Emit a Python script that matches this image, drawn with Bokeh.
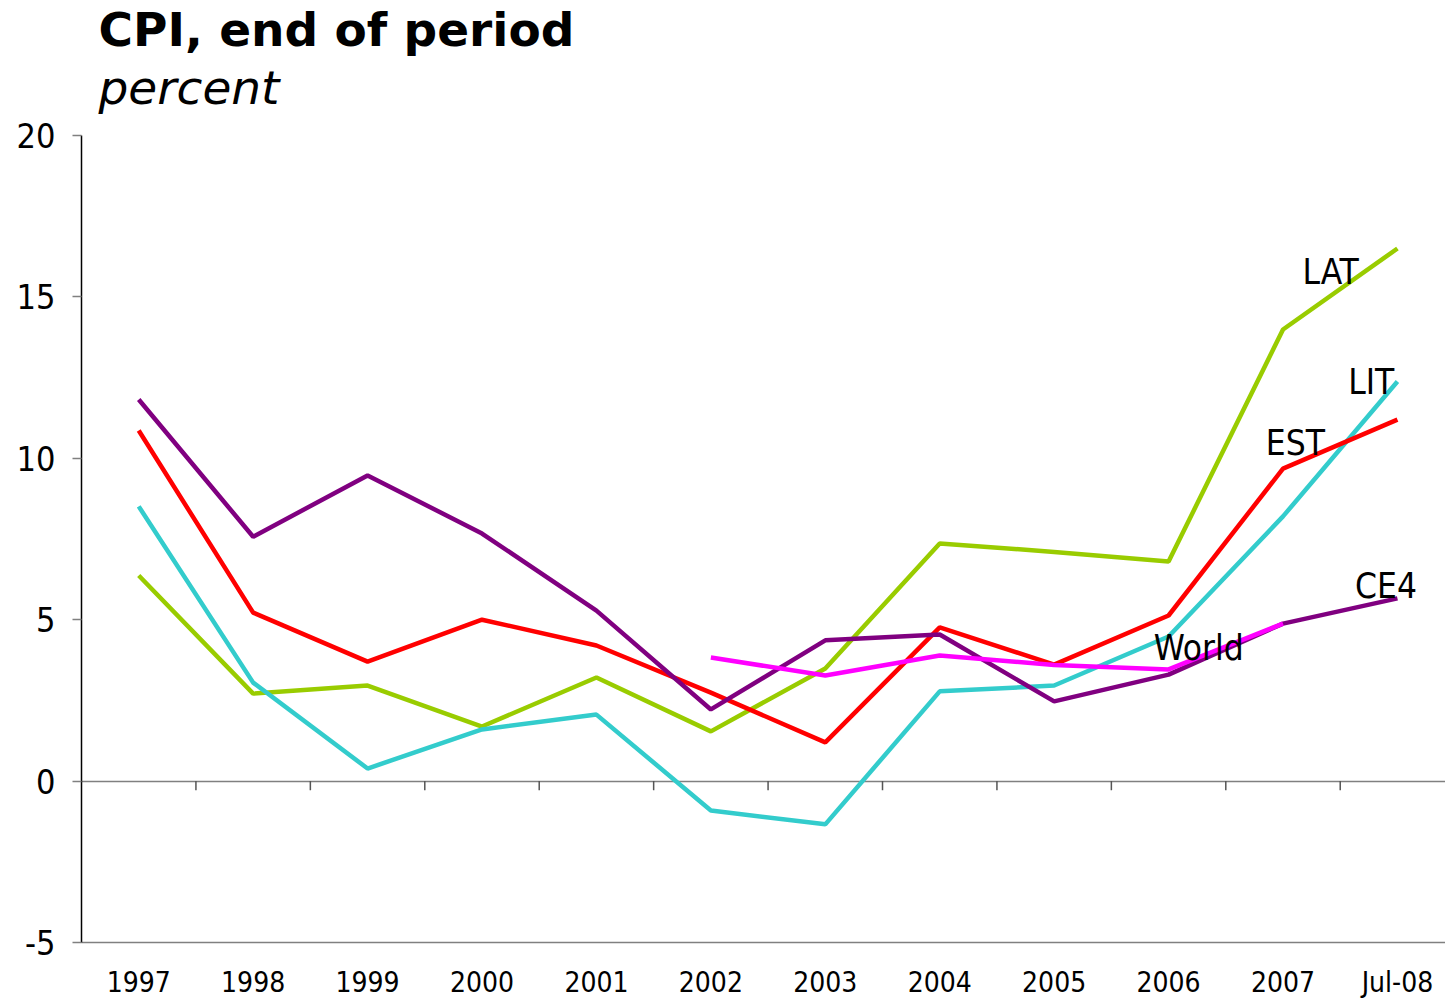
from bokeh.plotting import figure
from bokeh.models import Range1d, FixedTicker, Label, Title
from bokeh.embed import file_html
from bokeh.resources import INLINE

# ---- data ----
years = ["1997", "1998", "1999", "2000", "2001", "2002", "2003", "2004",
         "2005", "2006", "2007", "Jul-08"]
est = [10.86, 5.22, 3.70, 5.00, 4.20, 2.74, 1.20, 4.76, 3.61, 5.13, 9.68, 11.20]
lat = [6.37, 2.71, 2.96, 1.69, 3.21, 1.54, 3.49, 7.36, 7.10, 6.80, 13.99, 16.50]
lit = [8.51, 3.05, 0.39, 1.60, 2.06, -0.91, -1.34, 2.78, 2.96, 4.48, 8.20, 12.38]
ce4 = [11.82, 7.57, 9.47, 7.67, 5.28, 2.22, 4.36, 4.54, 2.47, 3.30, 4.88, 5.66]
world_years = ["2002", "2003", "2004", "2005", "2006", "2007"]
world = [3.83, 3.27, 3.89, 3.60, 3.46, 4.88]
y_ticks = [-5, 0, 5, 10, 15, 20]

FONT = "'DejaVu Sans Condensed', 'DejaVu Sans'"

# category positions (centre of each category slot)
pos = {c: i + 0.5 for i, c in enumerate(years)}
x_all = [pos[c] for c in years]
x_world = [pos[c] for c in world_years]

p = figure(width=1445, height=1001, x_range=Range1d(0, 11.92),
           y_range=Range1d(-5, 20), output_backend="svg",
           toolbar_location=None, title=None,
           min_border_left=81, min_border_right=0,
           min_border_top=135, min_border_bottom=59)
p.outline_line_color = None
p.background_fill_color = "white"

# titles (stacked above the frame; later ones sit higher)
sub = Title(text="percent", text_font="DejaVu Sans", text_font_size="47px",
            text_font_style="italic", text_color="black", align="left",
            offset=17, standoff=41)
p.add_layout(sub, "above")
main = Title(text="CPI, end of period", text_font="DejaVu Sans",
             text_font_size="47px", text_font_style="bold", text_color="black",
             align="left", offset=17, standoff=-38)
p.add_layout(main, "above")
spacer = Title(text=" ", text_font="DejaVu Sans", text_font_size="10px",
               text_color="white", align="left", standoff=4)
p.add_layout(spacer, "above")

# grid: zero line and top line
p.xgrid.grid_line_color = None
p.ygrid.ticker = FixedTicker(ticks=[0, 20])
p.ygrid.grid_line_color = "#808080"
p.ygrid.grid_line_width = 1.5

# y axis
ya = p.yaxis[0]
ya.ticker = FixedTicker(ticks=y_ticks)
ya.major_label_overrides = {-5: "-5"}
ya.axis_line_color = "black"
ya.axis_line_width = 1.5
ya.major_tick_line_color = "#808080"
ya.major_tick_line_width = 1.5
ya.major_tick_out = 9
ya.major_tick_in = 0
ya.minor_tick_line_color = None
ya.major_label_text_font = FONT
ya.major_label_text_font_size = "34px"
ya.major_label_text_color = "black"
ya.major_label_standoff = 17

# x axis (labels at bottom, line = bottom border)
xa = p.xaxis[0]
xa.ticker = FixedTicker(ticks=x_all)
xa.major_label_overrides = {pos[c]: c for c in years}
xa.axis_line_color = "#808080"
xa.axis_line_width = 1.5
xa.major_tick_line_color = None
xa.minor_tick_line_color = None
xa.major_tick_out = 0
xa.major_tick_in = 0
xa.major_label_text_font = FONT
xa.major_label_text_font_size = "28px"
xa.major_label_text_color = "black"
xa.major_label_standoff = 23

# category boundary ticks on the zero line
bounds = [i + 1 for i in range(len(years) - 1)]
p.segment(x0=bounds, y0=[0] * len(bounds), x1=bounds, y1=[-0.28] * len(bounds),
          line_color="#555555", line_width=1.5)

LW = 4.5
p.line(x_all, lat, line_color="#99CC00", line_width=LW)
p.line(x_all, lit, line_color="#33CCCC", line_width=LW)
p.line(x_all, est, line_color="#FF0000", line_width=LW)
p.line(x_all, ce4, line_color="#800080", line_width=LW)
p.line(x_world, world, line_color="#FF00FF", line_width=LW)

# series labels
label_names = ["LAT", "LIT", "EST", "CE4", "World"]
label_x = [10.67, 11.07, 10.35, 11.13, 9.37]
label_y = [15.76, 12.35, 10.46, 6.03, 4.11]
for t, lx, ly in zip(label_names, label_x, label_y):
    p.add_layout(Label(x=lx, y=ly, text=t, text_font=FONT,
                       text_font_size="35px", text_color="black",
                       text_baseline="alphabetic", text_align="left"))

open("out.html", "w").write(file_html(p, INLINE))
